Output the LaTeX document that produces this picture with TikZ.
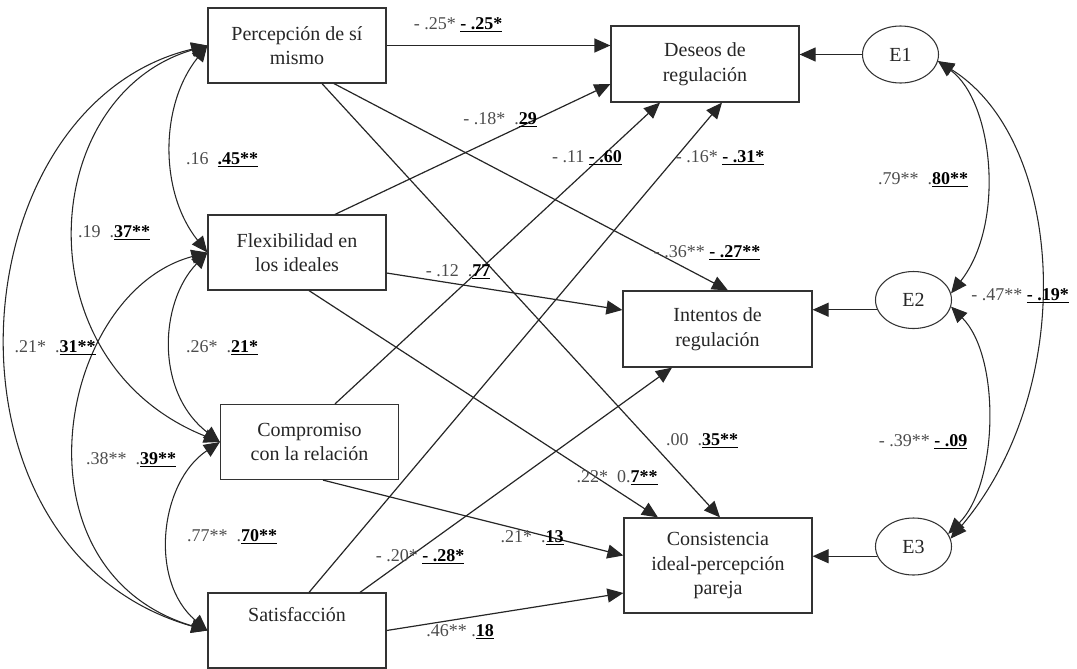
\documentclass[tikz,border=0pt]{standalone}
\usepackage{fontspec}
\setmainfont{Liberation Serif}
\usetikzlibrary{arrows.meta,shapes.geometric,calc}
\newcommand{\gras}[1]{\textcolor{black}{\underline{\textbf{#1}}}}
\tikzset{
  var/.style={draw=black!80,line width=0.9pt,minimum width=133.5pt,minimum height=56.25pt,
    align=center,text=black!85,font=\fontsize{15}{18.5}\selectfont},
  err/.style={draw=black!80,ellipse,line width=0.8pt,minimum width=57pt,minimum height=42.75pt,
    text=black!85,font=\fontsize{15}{18}\selectfont},
  coef/.style={inner sep=0pt,text=black!70,font=\fontsize{13.5}{15}\selectfont},
  fleche/.style={-{Triangle[length=12pt,width=10.5pt]},line width=0.9pt,draw=black!85},
  covar/.style={{Triangle[length=12pt,width=10.5pt]}-{Triangle[length=12pt,width=10.5pt]},line width=0.8pt,draw=black!85},
}
\begin{document}
\begin{tikzpicture}[x=0.75pt,y=-0.75pt]
\useasboundingbox (0,0) rectangle (1077,668);
% variables
\node[var] (per) at (297,45.5) {Percepción de sí\\mismo};
\node[var] (flex) at (297,252.5) {Flexibilidad en\\los ideales};
\node[var] (comp) at (309.5,442) {Compromiso\\con la relación};
\node[var] (sat) at (297,630.5) {Satisfacción\\\strut};
\node[var,minimum width=141pt,minimum height=57pt] (des) at (705,64) {Deseos de\\regulación};
\node[var,minimum width=141.75pt,minimum height=57pt] (int) at (717.5,329) {Intentos de\\regulación};
\node[var,minimum width=141pt,minimum height=71.25pt] (cons) at (718,565.5) {Consistencia\\ideal-percepción\\pareja};
% erreurs
\node[err] (E1) at (900.5,54.5) {E1};
\node[err] (E2) at (913.5,300) {E2};
\node[err] (E3) at (913.5,546.5) {E3};
\draw[fleche] (E1.west) -- (E1.west -| des.east);
\draw[fleche] (E2.195) -- (E2.195 -| int.east);
\draw[fleche] (E3.195) -- (E3.195 -| cons.east);
% covariances
\draw[covar] (per.west) .. controls +(-48,60) and +(-48,-60) .. (flex.west);
\draw[covar] (per.west) .. controls +(-170,50) and +(-200,-80) .. (comp.west);
\draw[covar] (per.west) .. controls +(-252,60) and +(-282,-80) .. (sat.west);
\draw[covar] (flex.west) .. controls +(-48,50) and +(-65,-50) .. (comp.west);
\draw[covar] (flex.west) .. controls +(-150,40) and +(-200,-60) .. (sat.west);
\draw[covar] (comp.west) .. controls +(-60,40) and +(-59,-50) .. (sat.west);
\draw[covar] (E1.-10) .. controls +(55,40) and +(55,-70) .. (E2.10);
\draw[covar] (E1.-10) .. controls +(128,80) and +(128,-150) .. (E3.12);
\draw[covar] (E2.-10) .. controls +(50,50) and +(50,-50) .. (E3.20);
\node[coef] (cPF) at (222,160) {.16\enspace\gras{.45**}};
\node[coef] (cPC) at (114,233) {.19\enspace.\gras{37**}};
\node[coef] (cPS) at (55,348) {.21*\enspace.\gras{31**}};
\node[coef] (cFC) at (222,348) {.26*\enspace.\gras{21*}};
\node[coef] (cFS) at (131,460) {.38**\enspace.\gras{39**}};
\node[coef] (cCS) at (232,537) {.77**\enspace.\gras{70**}};
\node[coef] (c12) at (923,180) {.79**\enspace.\gras{80**}};
\node[coef] (c13) at (1020,296) {- .47** \gras{- .19*}};
\node[coef] (c23) at (923,442) {- .39** \gras{- .09}};
% chemins
\draw[fleche] (per.east) -- (per.east -| des.west);
\draw[fleche] ($(flex.north)+(38,0)$) -- ($(des.west)+(0,20)$);
\draw[fleche] ($(comp.north)+(25.5,0)$) -- ($(des.south)+(-45,0)$);
\draw[fleche] ($(sat.north)+(12,0)$) -- ($(des.south)+(17,0)$);
\draw[fleche] ($(per.south)+(37,0)$) -- ($(int.north)+(10.5,0)$);
\draw[fleche] ($(flex.east)+(0,20.5)$) -- ($(int.west)+(0,-19)$);
\draw[fleche] ($(sat.north)+(63,0)$) -- ($(int.south)+(-45.5,0)$);
\draw[fleche] ($(per.south)+(25,0)$) -- ($(cons.north)+(2,0)$);
\draw[fleche] ($(flex.south)+(12,0)$) -- ($(cons.north)+(-60,0)$);
\draw[fleche] ($(comp.south)+(13.5,0)$) -- ($(cons.west)+(0,-10)$);
\draw[fleche] (sat.east) -- ($(cons.west)+(0,27.5)$);
\node[coef] (rPD) at (458,25) {- .25* \gras{- .25*}};
\node[coef] (rFD) at (500,120) {- .18*\enspace.\gras{29}};
\node[coef] (rCD) at (587,158) {- .11 \gras{- .60}};
\node[coef] (rSD) at (720,158) {- .16* \gras{- .31*}};
\node[coef] (rPI) at (707,253) {- .36** \gras{- .27**}};
\node[coef] (rFI) at (458,272) {- .12\enspace.\gras{77}};
\node[coef] (rSI) at (420,557) {- .20* \gras{- .28*}};
\node[coef] (rPK) at (702,441) {.00\enspace.\gras{35**}};
\node[coef] (rFK) at (617,478) {.22*\enspace0.\gras{7**}};
\node[coef] (rCK) at (532,538) {.21*\enspace.\gras{13}};
\node[coef] (rSK) at (460,632) {.46** .\gras{18}};
\end{tikzpicture}
\end{document}
